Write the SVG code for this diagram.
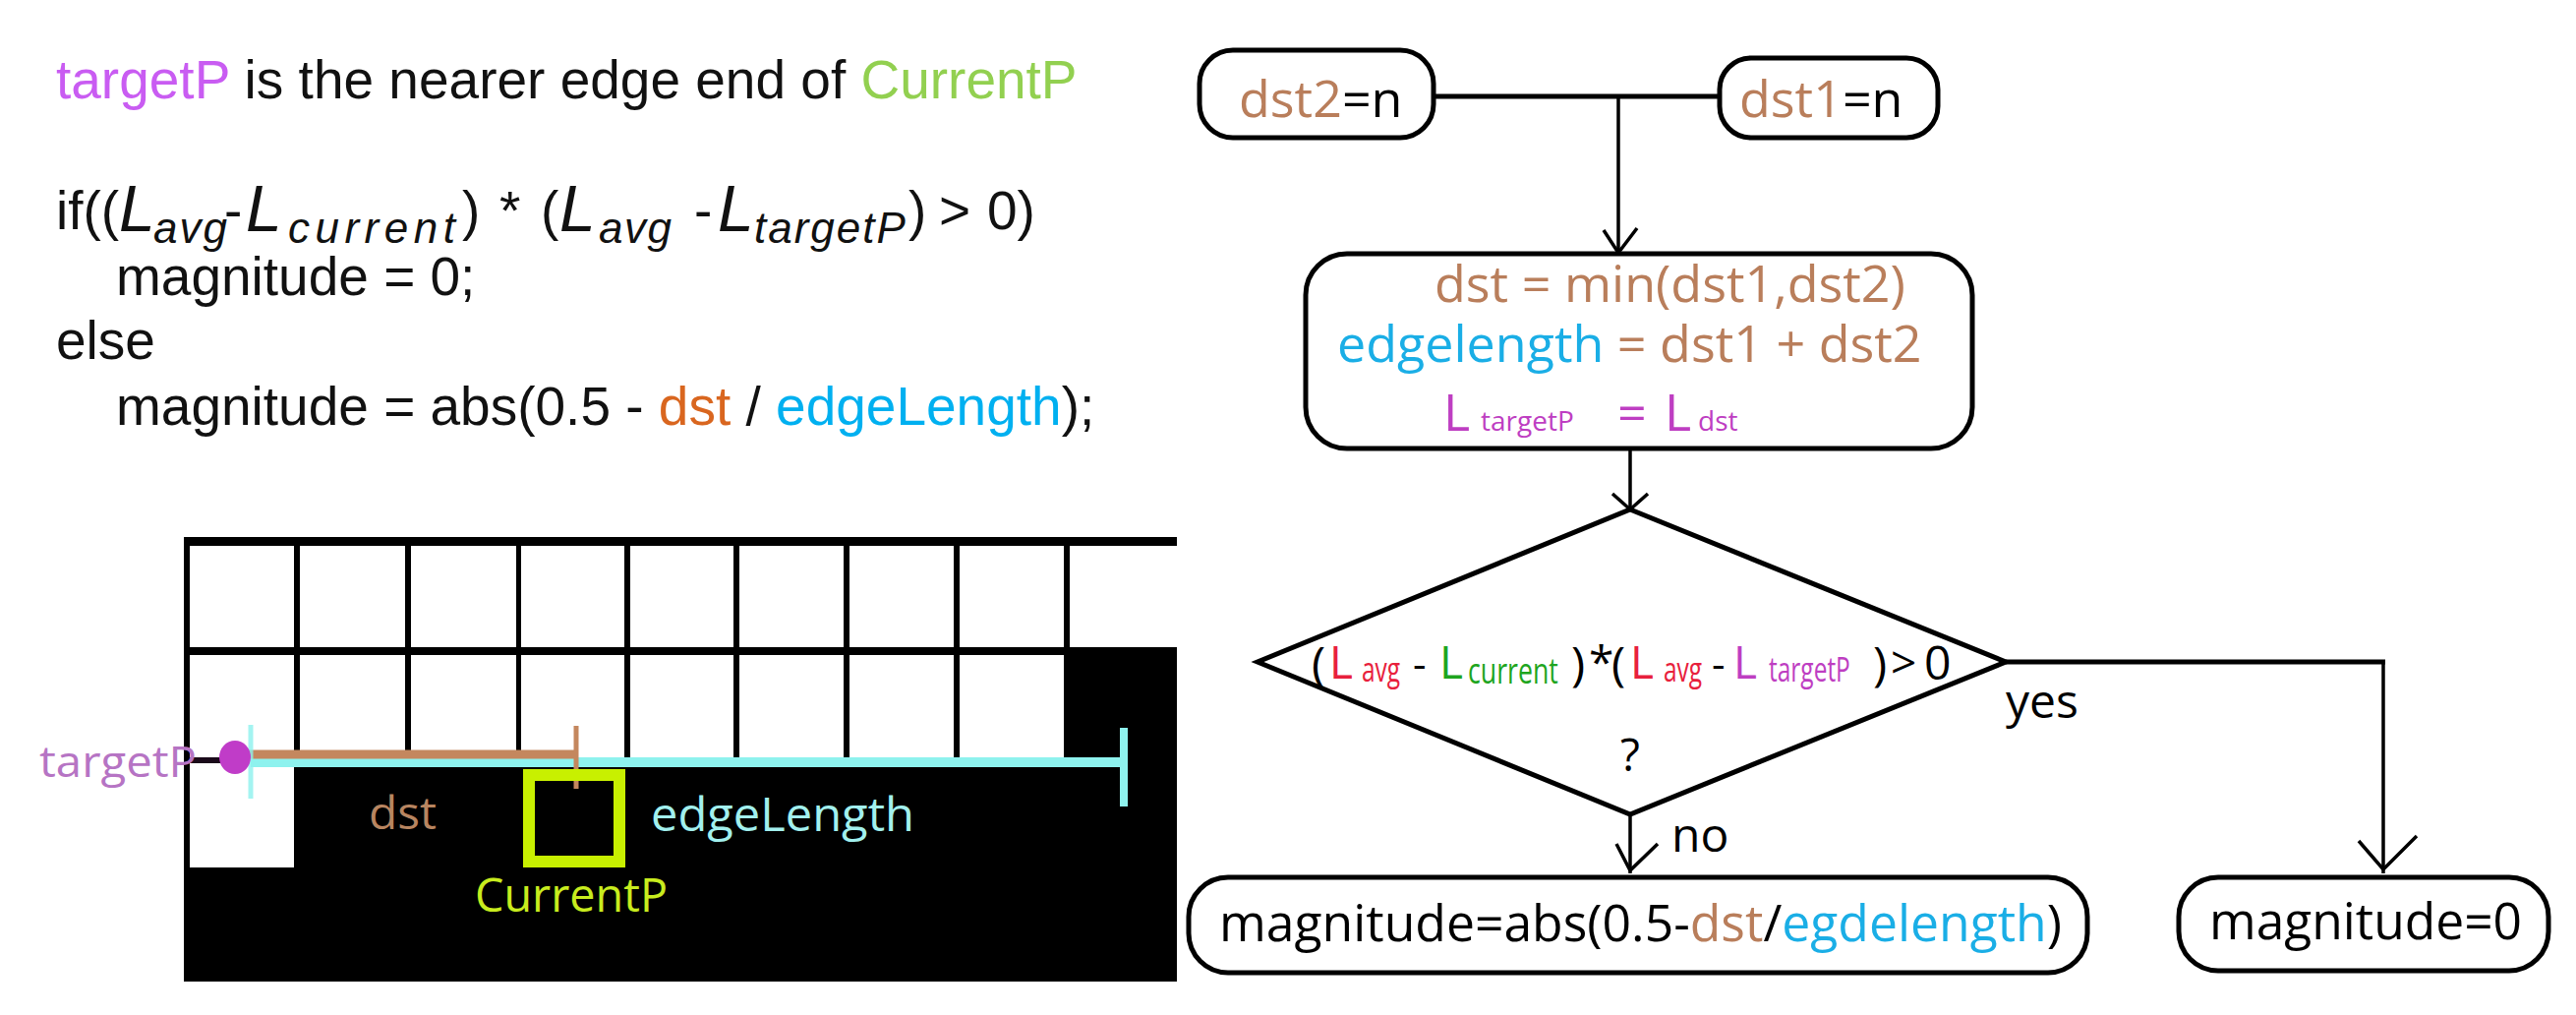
<svg xmlns="http://www.w3.org/2000/svg" width="2620" height="1032" viewBox="0 0 2620 1032">
<style>
.code{font-family:"Liberation Sans",Arial,sans-serif;font-size:55px;fill:#111}
.it{font-style:italic}
.fc{font-family:"Open Sans","Noto Sans",sans-serif}
.box{fill:#fff;stroke:#000;stroke-width:5}
.conn{fill:none;stroke:#000;stroke-width:3.5}
.thick{fill:none;stroke:#000;stroke-width:5}
.head{fill:none;stroke:#000;stroke-width:3.5;stroke-linejoin:miter}
.brown{fill:#B97E5B}
.cyan{fill:#1AAEE6}
.purple{fill:#BE3EC2}
.red{fill:#E8203C}
.green{fill:#1EA51E}
</style>
<rect width="2620" height="1032" fill="#fff"/>

<g id="explanation">
<text class="code" x="57" y="100"><tspan fill="#C95CF2">targetP</tspan> is the nearer edge end of <tspan fill="#92D050">CurrentP</tspan></text>
<text class="code"><tspan x="57" y="233">if((</tspan><tspan class="it" x="121" y="235" font-size="66">L</tspan><tspan class="it" x="156" y="247" font-size="44" letter-spacing="2">avg</tspan><tspan x="228" y="233" letter-spacing="0">-</tspan><tspan class="it" x="250" y="235" font-size="66">L</tspan><tspan class="it" x="293" y="247" font-size="44" letter-spacing="5.5">current</tspan><tspan x="470" y="233" letter-spacing="0">)</tspan><tspan x="508" y="233">*</tspan><tspan x="550" y="233">(</tspan><tspan class="it" x="569" y="235" font-size="66">L</tspan><tspan class="it" x="609" y="247" font-size="44" letter-spacing="1.5">avg</tspan><tspan x="706" y="233" letter-spacing="0">-</tspan><tspan class="it" x="730" y="235" font-size="66">L</tspan><tspan class="it" x="767" y="247" font-size="44" letter-spacing="2">targetP</tspan><tspan x="924" y="233" letter-spacing="0">)</tspan><tspan x="955" y="233">&gt;</tspan><tspan x="1004" y="233">0)</tspan></text>
<text class="code" x="118" y="300">magnitude = 0;</text>
<text class="code" x="57" y="365">else</text>
<text class="code" x="118" y="432">magnitude = abs(0.5 - <tspan fill="#D9661F">dst</tspan> / <tspan fill="#00B0F0">edgeLength</tspan>);</text>
</g>

<g id="grid-picture">
<rect x="187" y="546" width="1010" height="452" fill="#000"/>
<g fill="#fff">
<rect x="193" y="555" width="106" height="103"/>
<rect x="305" y="555" width="107" height="103"/>
<rect x="418" y="555" width="107" height="103"/>
<rect x="530" y="555" width="105" height="103"/>
<rect x="641" y="555" width="105" height="103"/>
<rect x="752" y="555" width="106" height="103"/>
<rect x="864" y="555" width="106" height="103"/>
<rect x="976" y="555" width="106" height="103"/>
<rect x="1088" y="555" width="109" height="103"/>
<rect x="193" y="666" width="106" height="216"/>
<rect x="305" y="666" width="107" height="112"/>
<rect x="418" y="666" width="107" height="112"/>
<rect x="530" y="666" width="105" height="112"/>
<rect x="641" y="666" width="105" height="112"/>
<rect x="752" y="666" width="106" height="112"/>
<rect x="864" y="666" width="106" height="112"/>
<rect x="976" y="666" width="106" height="112"/>
</g>
<line x1="255" y1="775" x2="1142" y2="775" stroke="#8EF2EE" stroke-width="10"/>
<line x1="238" y1="767" x2="587" y2="767" stroke="#C4875E" stroke-width="9"/>
<line x1="255" y1="737" x2="255" y2="812" stroke="#8EF2EE" stroke-width="5" opacity="0.8"/>
<line x1="1143" y1="740" x2="1143" y2="820" stroke="#8EF2EE" stroke-width="8"/>
<line x1="586" y1="738" x2="586" y2="802" stroke="#C4875E" stroke-width="5"/>
<rect x="538" y="788" width="92" height="88" fill="none" stroke="#C8F000" stroke-width="12"/>
<line x1="193" y1="773" x2="226" y2="773" stroke="#1a0a1a" stroke-width="6"/>
<ellipse cx="239" cy="770" rx="16" ry="17" fill="#C03CC8"/>
<text class="fc" x="40" y="790" font-size="44" fill="#B674C4" textLength="160" lengthAdjust="spacingAndGlyphs">targetP</text>
<text class="fc" x="375" y="843" font-size="46" fill="#B88560" textLength="69" lengthAdjust="spacingAndGlyphs">dst</text>
<text class="fc" x="662" y="845" font-size="47" fill="#A2F0EE" textLength="268" lengthAdjust="spacingAndGlyphs">edgeLength</text>
<text class="fc" x="483" y="927" font-size="47" fill="#C8EC1E" textLength="196" lengthAdjust="spacingAndGlyphs">CurrentP</text>
</g>

<g id="connectors">
<line class="thick" x1="1460" y1="98" x2="1747" y2="98"/>
<line class="conn" x1="1646" y1="98" x2="1646" y2="256"/>
<polyline class="head" points="1631,234 1646,257 1665,232"/>
<line class="conn" x1="1658" y1="458" x2="1658" y2="517"/>
<polyline class="head" points="1640,502 1658,518 1676,502"/>
<line class="conn" x1="1658" y1="830" x2="1658" y2="888"/>
<polyline class="head" points="1644,858 1658,885 1686,858"/>
<line class="thick" x1="2040" y1="673" x2="2426" y2="673"/>
<line class="conn" x1="2424" y1="673" x2="2424" y2="888"/>
<polyline class="head" points="2399,855 2424,884 2458,850"/>
</g>

<g id="node-dst2">
<rect class="box" x="1220" y="51" width="238" height="89" rx="34"/>
<text class="fc" x="1260" y="119" font-size="52"><tspan class="brown">dst2</tspan>=n</text>
</g>
<g id="node-dst1">
<rect class="box" x="1749" y="59" width="222" height="81" rx="32"/>
<text class="fc" x="1769" y="119" font-size="52"><tspan class="brown">dst1</tspan>=n</text>
</g>
<g id="node-compute">
<rect class="box" x="1328" y="258" width="678" height="198" rx="42"/>
<text class="fc brown" x="1459" y="307" font-size="52">dst = min(dst1,dst2)</text>
<text class="fc" x="1360" y="368" font-size="52"><tspan class="cyan">edgelength</tspan><tspan class="brown"> = dst1 + dst2</tspan></text>
<text class="fc purple" font-size="52"><tspan x="1468" y="438">L</tspan><tspan x="1506" y="438" font-size="28">targetP</tspan><tspan x="1645" y="438">=</tspan><tspan x="1693" y="438">L</tspan><tspan x="1727" y="438" font-size="28">dst</tspan></text>
</g>
<g id="node-decision">
<polygon class="box" points="1658,518 2040,673 1658,828 1279,673"/>
<text class="fc" font-size="46"><tspan x="1334" y="692" font-size="48">(</tspan><tspan class="red" x="1352" y="690">L</tspan><tspan x="1437" y="690" font-size="42">-</tspan><tspan class="green" x="1464" y="690">L</tspan><tspan x="1598" y="692" font-size="48">)</tspan><tspan x="1616" y="690">*</tspan><tspan x="1639" y="692" font-size="48">(</tspan><tspan class="red" x="1658" y="690">L</tspan><tspan x="1741" y="690" font-size="42">-</tspan><tspan class="purple" x="1763" y="690">L</tspan><tspan x="1905" y="692" font-size="48">)</tspan><tspan x="1923" y="690">&gt;</tspan><tspan x="1957" y="691" font-size="48">0</tspan></text>
<text class="fc red" font-size="35" transform="translate(1385,693) scale(0.7,1)">avg</text>
<text class="fc green" font-size="36" transform="translate(1493,695) scale(0.742,1)">current</text>
<text class="fc red" font-size="35" transform="translate(1692,693) scale(0.7,1)">avg</text>
<text class="fc purple" font-size="35" transform="translate(1799,693) scale(0.7,1)">targetP</text>
<text class="fc" x="1648" y="784" font-size="46">?</text>
</g>
<g id="labels">
<text class="fc" x="2040" y="730" font-size="48">yes</text>
<text class="fc" x="1700" y="866" font-size="48">no</text>
</g>
<g id="node-magnitude-abs">
<rect class="box" x="1209" y="892" width="914" height="97" rx="40"/>
<text class="fc" x="1240" y="957" font-size="51" textLength="857" lengthAdjust="spacingAndGlyphs">magnitude=abs(0.5-<tspan class="brown">dst</tspan>/<tspan class="cyan">egdelength</tspan>)</text>
</g>
<g id="node-magnitude-zero">
<rect class="box" x="2216" y="892" width="376" height="95" rx="40"/>
<text class="fc" x="2247" y="955" font-size="51" textLength="318" lengthAdjust="spacingAndGlyphs">magnitude=0</text>
</g>
</svg>
